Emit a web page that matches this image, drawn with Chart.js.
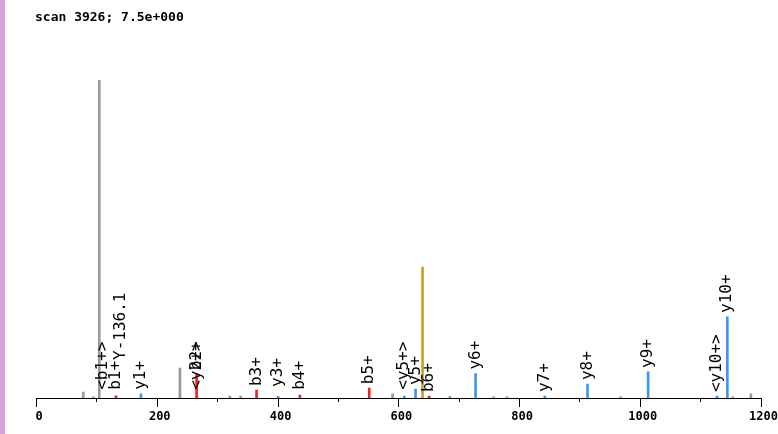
<!DOCTYPE html>
<html lang="en">
<head>
    <meta charset="UTF-8">
    <title>Spectrum scan 3926</title>
    <script src="https://cdn.jsdelivr.net/npm/chart.js"></script>
    <style>
        body { margin: 0; background: #fff; overflow: hidden; }
        #wrap { position: relative; width: 778px; height: 434px; }
        #strip { position: absolute; left: 0; top: 0; width: 5px; height: 434px; background: #dba3dc; }
        #title { position: absolute; left: 35px; top: 9px; font: bold 13px "DejaVu Sans Mono", monospace; color: #000; }
        canvas { position: absolute; left: 0; top: 0; }
    </style>
</head>
<body>
    <div id="wrap">
        <canvas id="spectrum" width="778" height="434"></canvas>
        <div id="strip"></div>
        <div id="title">scan 3926; 7.5e+000</div>
    </div>
    <script>
        // peaks by ion type (m/z, relative intensity)
        const grayMz = [78.3, 95, 104.8, 238.4, 321, 339, 590.5, 685.4, 758, 780, 968, 1154, 1184];
        const grayInt = [1.9, 0.4, 100, 9.4, 0.6, 0.6, 1.3, 0.5, 0.4, 0.4, 0.4, 0.4, 1.3];
        const redMz = [132.5, 266, 365.3, 437, 551.9, 651.2];
        const redInt = [0.7, 7.5, 2.5, 0.9, 3.1, 0.6];
        const blueMz = [173.8, 266.5, 401, 610, 628.6, 728, 842.7, 913.4, 1013.8, 1128, 1145];
        const blueInt = [1.3, 0.5, 0.5, 0.6, 2.8, 7.7, 0.6, 4.4, 8.2, 0.6, 25.5];
        const goldMz = [640.2];
        const goldInt = [41.2];

        // peak annotations: text, m/z, level the text sits on
        const labelText = ['<b1+>', 'b1+', 'Y-136.1', 'y1+', '<y2+>', 'b2+', 'b3+', 'y3+', 'b4+', 'b5+',
            '<y5+>', 'y5+', 'b6+', 'y6+', 'y7+', 'y8+', 'y9+', '<y10+>', 'y10+'];
        const labelMz = [111.4, 132.5, 140.7, 173.8, 266, 266, 365.3, 401, 437, 551.9,
            610, 628.6, 651.2, 728, 842.7, 913.4, 1013.8, 1128, 1145];
        const labelLevel = [1.3, 1.3, 10.7, 1.3, 1.3, 7.5, 2.5, 2.2, 1.3, 3.1,
            1.3, 2.8, 0.6, 7.7, 0.6, 4.4, 8.2, 0.6, 25.5];

        const toPoints = (mz, ints) => mz.map((m, i) => ({ x: m, y: ints[i] }));

        const peakSet = (label, mz, ints, color) => ({
            label,
            data: toPoints(mz, ints),
            backgroundColor: color,
            borderWidth: 0,
            barThickness: 2,
            grouped: false
        });

        // long ticks every 200, short ones on the odd hundreds
        const axisTicks = {
            id: 'axisTicks',
            afterDraw(chart) {
                const { ctx, scales: { x }, chartArea } = chart;
                ctx.save();
                ctx.strokeStyle = '#000';
                ctx.lineWidth = 1;
                for (let v = 0; v <= 1200; v += 100) {
                    const px = Math.round(x.getPixelForValue(v)) + 0.5;
                    const len = v % 200 === 0 ? 9 : 4;
                    ctx.beginPath();
                    ctx.moveTo(px, chartArea.bottom);
                    ctx.lineTo(px, chartArea.bottom + len);
                    ctx.stroke();
                }
                ctx.restore();
            }
        };

        const peakLabels = {
            id: 'peakLabels',
            afterDatasetsDraw(chart) {
                const { ctx, scales: { x, y } } = chart;
                ctx.save();
                ctx.fillStyle = '#000';
                ctx.font = '16px "DejaVu Sans Mono", monospace';
                ctx.textAlign = 'left';
                ctx.textBaseline = 'middle';
                labelText.forEach((t, i) => {
                    const px = x.getPixelForValue(labelMz[i]);
                    const py = y.getPixelForValue(labelLevel[i]) - 4;
                    ctx.save();
                    ctx.translate(px, py);
                    ctx.rotate(-Math.PI / 2);
                    ctx.fillText(t, 0, 0);
                    ctx.restore();
                });
                ctx.restore();
            }
        };

        new Chart(document.getElementById('spectrum').getContext('2d'), {
            type: 'bar',
            data: {
                datasets: [
                    peakSet('other', grayMz, grayInt, '#9a9a9a'),
                    peakSet('b ions', redMz, redInt, '#f42020'),
                    peakSet('y ions', blueMz, blueInt, '#3b97f2'),
                    peakSet('precursor', goldMz, goldInt, '#c9a22a')
                ]
            },
            options: {
                responsive: false,
                animation: false,
                layout: { padding: { left: 36, right: 17, top: 80, bottom: 0 } },
                scales: {
                    x: {
                        type: 'linear',
                        min: 0,
                        max: 1200,
                        offset: false,
                        border: { display: true, color: '#000', width: 1 },
                        grid: {
                            drawOnChartArea: false,
                            drawTicks: true,
                            tickLength: 9,
                            tickColor: 'rgba(0,0,0,0)'
                        },
                        ticks: {
                            stepSize: 200,
                            autoSkip: false,
                            maxRotation: 0,
                            padding: 3,
                            labelOffset: 3,
                            color: '#000',
                            font: { family: '"DejaVu Sans Mono", monospace', size: 12, weight: 'bold' },
                            callback: v => String(v)
                        },
                        afterFit: scale => { scale.height = 36; }
                    },
                    y: { display: false, min: 0, max: 100 }
                },
                plugins: {
                    legend: { display: false },
                    tooltip: { enabled: false }
                }
            },
            plugins: [axisTicks, peakLabels]
        });
    </script>
</body>
</html>
